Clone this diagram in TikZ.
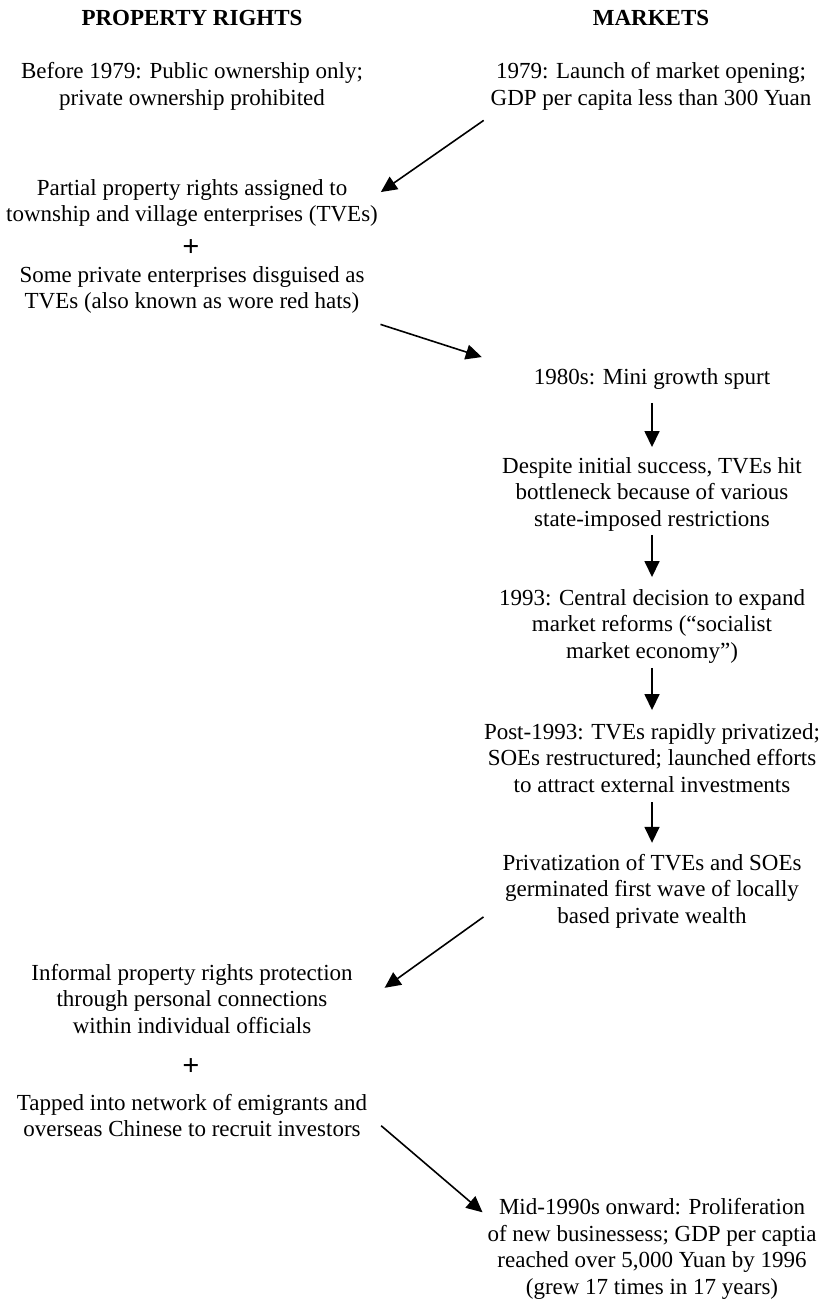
\documentclass[tikz,border=0pt]{standalone}
\usepackage{fontspec}
\setmainfont{Liberation Serif}
\usetikzlibrary{arrows.meta,calc}

\begin{document}
\begin{tikzpicture}[
  x=1pt, y=-1pt,
  txt/.style={align=center,inner sep=0pt,outer sep=0pt,anchor=base,font=\fontsize{23}{26.5}\selectfont},
  hdr/.style={txt,font=\fontsize{23}{26.5}\selectfont\bfseries},
  plus/.style={txt,anchor=center,font=\fontsize{30}{30}\selectfont\bfseries},
  head/.style={-{Triangle[length=16pt,width=15pt]},line width=1.6pt},
  flow/.style={head,shorten <=7pt,shorten >=11pt}
]
  \useasboundingbox (0,0) rectangle (822,1300);

  % Column headers
  \node[hdr] (hdrL) at (192,26) {PROPERTY RIGHTS};
  \node[hdr] (hdrM) at (651,26) {MARKETS};

  % Property rights column (y = baseline of last line)
  \node[txt] (pre79)    at (192,105.5)  {Before 1979: Public ownership only;\\private ownership prohibited};
  \node[txt] (partial)  at (192,221.5)  {Partial property rights assigned to\\township and village enterprises (TVEs)};
  \node[plus] (plusA)   at (191,248)    {+};
  \node[txt] (redhats)  at (192,308.5)  {Some private enterprises disguised as\\TVEs (also known as wore red hats)};
  \node[txt] (informal) at (192,1033)   {Informal property rights protection\\through personal connections\\within individual officials};
  \node[plus] (plusB)   at (191,1067)   {+};
  \node[txt] (tapped)   at (192,1136.5) {Tapped into network of emigrants and\\overseas Chinese to recruit investors};

  % Markets column
  \node[txt] (mrk79)    at (651,105.5)  {1979: Launch of market opening;\\GDP per capita less than 300 Yuan};
  \node[txt] (spurt)    at (652,384)    {1980s: Mini growth spurt};
  \node[txt] (despite)  at (652,526)    {Despite initial success, TVEs hit\\bottleneck because of various\\state-imposed restrictions};
  \node[txt] (reform93) at (652,658)    {1993: Central decision to expand\\market reforms (“socialist\\market economy”)};
  \node[txt] (post93)   at (652,792)    {Post-1993: TVEs rapidly privatized;\\SOEs restructured; launched efforts\\to attract external investments};
  \node[txt] (wealth)   at (652,923)    {Privatization of TVEs and SOEs\\germinated first wave of locally\\based private wealth};
  \node[txt] (boom)     at (652,1294)   {Mid-1990s onward: Proliferation\\of new businessess; GDP per captia\\reached over 5,000 Yuan by 1996\\(grew 17 times in 17 years)};

  % Cross-column arrows
  \draw[head] ($(mrk79.south west)+(-7,10)$) -- ($(partial.north east)+(3,13)$);
  \draw[head] ($(redhats.south east)+(16,11)$) -- ($(spurt.north west)+(-52,-11)$);
  \draw[head] ($(wealth.south west)+(-19,-11)$) -- ($(informal.north east)+(32,24)$);
  \draw[head] ($(tapped.south east)+(14,-11)$) -- ($(boom.north west)+(-5,14)$);

  % Down the markets column
  \draw[flow,shorten <=14pt,shorten >=10pt] (spurt) -- (despite);
  \draw[flow,shorten <=4pt,shorten >=12pt] (despite) -- (reform93);
  \draw[flow,shorten <=5pt,shorten >=13pt] (reform93) -- (post93);
  \draw[flow,shorten <=10pt,shorten >=11pt] (post93) -- (wealth);
\end{tikzpicture}
\end{document}
